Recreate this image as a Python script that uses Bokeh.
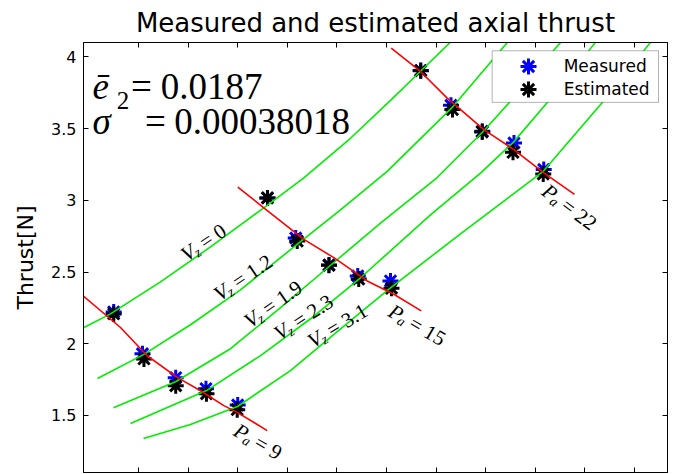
import math
from bokeh.plotting import figure
from bokeh.models import Range1d, LinearAxis, FixedTicker, Legend, LegendItem, BoxAnnotation
from bokeh.core.properties import value
from bokeh.embed import file_html
from bokeh.resources import INLINE

# ---------------- data ----------------
x_ticks = [1, 2, 3, 4, 5, 6, 7, 8, 9, 10, 11]
y_ticks = [1.5, 2, 2.5, 3, 3.5, 4]
y_tick_labels = ["1.5", "2", "2.5", "3", "3.5", "4"]

meas_x = [0.50, 1.08, 1.75, 2.36, 3.00, 3.60, 4.17, 4.84, 5.42, 6.08, 6.69, 7.30, 7.93, 8.57, 9.17]
meas_y = [2.222, 1.930, 1.763, 1.686, 1.572, 3.017, 2.737, 2.549, 2.473, 2.438, 3.906, 3.663, 3.482, 3.400, 3.215]
est_x = [0.50, 1.11, 1.75, 2.37, 2.99, 3.60, 4.20, 4.84, 5.44, 6.10, 6.69, 7.33, 7.93, 8.55, 9.16]
est_y = [2.208, 1.894, 1.707, 1.651, 1.540, 3.017, 2.716, 2.547, 2.451, 2.387, 3.904, 3.633, 3.477, 3.335, 3.184]

vz_labels = ["0", "1.2", "1.9", "2.3", "3.1"]
vz0_x = [-0.109, 0.435, 1.444, 2.452, 3.52, 4.327, 5.274, 6.081, 6.68, 7.387]
vz0_y = [2.111, 2.208, 2.431, 2.675, 2.946, 3.155, 3.433, 3.697, 3.899, 4.136]
vz12_x = [0.173, 1.101, 2.048, 3.056, 4.185, 5.073, 6.02, 7.31, 8.54]
vz12_y = [1.757, 1.924, 2.132, 2.376, 2.689, 2.933, 3.204, 3.643, 4.143]
vz19_x = [0.496, 1.746, 2.855, 3.863, 4.831, 5.879, 7.028, 7.935, 8.48, 9.508]
vz19_y = [1.554, 1.735, 1.965, 2.251, 2.535, 2.841, 3.161, 3.475, 3.684, 4.102]
vz23_x = [0.839, 2.371, 3.46, 4.468, 5.476, 6.887, 7.895, 8.56, 9.246, 10.214]
vz23_y = [1.443, 1.673, 1.917, 2.174, 2.46, 2.898, 3.19, 3.406, 3.684, 4.102]
vz31_x = [1.101, 2.048, 2.996, 4.064, 5.073, 6.081, 7.492, 9.165, 10.355, 11.323]
vz31_y = [1.339, 1.436, 1.562, 1.812, 2.104, 2.39, 2.766, 3.204, 3.684, 4.102]

pa_labels = ["9", "15", "22"]
pa9_x = [-0.21, 0.637, 1.175, 1.78, 2.25, 2.72, 2.99, 3.595]
pa9_y = [2.361, 2.113, 1.916, 1.765, 1.672, 1.568, 1.521, 1.394]
pa15_x = [3.002, 3.526, 4.333, 4.938, 5.611, 6.147, 6.70]
pa15_y = [3.092, 2.948, 2.728, 2.600, 2.438, 2.345, 2.229]
pa22_x = [6.095, 6.685, 7.224, 7.962, 8.567, 9.171, 9.79]
pa22_y = [4.061, 3.899, 3.713, 3.493, 3.354, 3.191, 3.041]

e_mean = "0.0187"
sigma2 = "0.00038018"

# ---------------- figure ----------------
X0, X1 = -0.109, 11.665
Y0, Y1 = 1.1016, 4.101
FW, FH = 584, 431
SX = FW / (X1 - X0)
SY = FH / (Y1 - Y0)

p = figure(width=675, height=474, x_range=Range1d(X0, X1), y_range=Range1d(Y0, Y1),
           output_backend="svg", toolbar_location=None,
           x_axis_location=None, y_axis_location=None,
           title="Measured and estimated axial thrust")
p.min_border_left = 83
p.min_border_right = 8
p.min_border_bottom = 2
p.min_border_top = 41
p.grid.visible = False
p.outline_line_color = "black"
p.outline_line_width = 1
p.background_fill_color = "white"
p.border_fill_color = "white"

p.title.text_font = "DejaVu Sans"
p.title.text_font_size = "26px"
p.title.text_font_style = "normal"
p.title.align = "center"
p.title.text_color = "black"

SANS = "DejaVu Sans"
SERIF = "Liberation Serif"


def make_axis(ticks, show_labels):
    ax = LinearAxis(ticker=FixedTicker(ticks=ticks))
    ax.major_tick_in = 5
    ax.major_tick_out = 0
    ax.minor_tick_line_color = None
    ax.axis_line_color = "black"
    ax.axis_line_width = 1
    ax.major_tick_line_color = "black"
    if show_labels:
        ax.major_label_text_font = SANS
        ax.major_label_text_font_size = "16px"
        ax.major_label_text_color = "black"
        ax.major_label_standoff = 7
    else:
        ax.major_label_text_font_size = "0px"
        ax.major_label_text_color = None
        ax.major_label_standoff = 0
    return ax


left = make_axis(y_ticks, True)
left.major_label_overrides = {t: s for t, s in zip(y_ticks, y_tick_labels)}
left.axis_label = "Thrust[N]"
left.axis_label_text_font = SANS
left.axis_label_text_font_size = "22px"
left.axis_label_text_font_style = "normal"
left.axis_label_text_color = "black"
left.axis_label_standoff = 10
p.add_layout(left, "left")
p.add_layout(make_axis(y_ticks, False), "right")
p.add_layout(make_axis(x_ticks, False), "below")
p.add_layout(make_axis(x_ticks, False), "above")

# markers
r_meas = p.scatter(meas_x, meas_y, marker="asterisk", size=16, line_color="blue", line_width=3)
r_est = p.scatter(est_x, est_y, marker="asterisk", size=16, line_color="black", line_width=3)

# green constant-V curves
GREEN = "#00ee00"
for xs, ys in [(vz0_x, vz0_y), (vz12_x, vz12_y), (vz19_x, vz19_y), (vz23_x, vz23_y), (vz31_x, vz31_y)]:
    p.line(xs, ys, line_color=GREEN, line_width=1.6)

# red constant-P lines
for xs, ys in [(pa9_x, pa9_y), (pa15_x, pa15_y), (pa22_x, pa22_y)]:
    p.line(xs, ys, line_color="red", line_width=1.6)

# ---------------- math-like labels ----------------
EM_IT = {"V": 0.611, "P": 0.611, "z": 0.389, "a": 0.5}
EM_RM = {"=": 0.564, " ": 0.25, ".": 0.25}


def w_rm(s, f):
    return sum(EM_RM.get(c, 0.5) for c in s) * f


def place(cx, cy, ang, u, v):
    t = math.radians(ang)
    dx = u * math.cos(t) + v * math.sin(t)
    dy = -u * math.sin(t) + v * math.cos(t)
    return cx + dx / SX, cy - dy / SY


parts = {"it": ([], [], [], []), "sub": ([], [], [], []), "rm": ([], [], [], [])}


def add(kind, x, y, txt, ang):
    lst = parts[kind]
    lst[0].append(x); lst[1].append(y); lst[2].append(txt); lst[3].append(math.radians(ang))


F, FS, GAP = 21, 14, 4


def math_label(cx, cy, ang, main, sub, rest):
    wm = EM_IT[main] * F
    ws = EM_IT[sub] * FS
    L = wm + ws + GAP + w_rm(rest, F)
    u0 = -L / 2
    x, y = place(cx, cy, ang, u0, 0); add("it", x, y, main, ang)
    x, y = place(cx, cy, ang, u0 + wm - 1, 5); add("sub", x, y, sub, ang)
    x, y = place(cx, cy, ang, u0 + wm + ws + GAP, 0); add("rm", x, y, rest, ang)


vz_pos = [(2.31, 2.706, 34), (3.107, 2.461, 34), (3.712, 2.276, 35), (4.327, 2.184, 33), (5.012, 2.125, 31)]
for lab, (cx, cy, a) in zip(vz_labels, vz_pos):
    math_label(cx, cy, a, "V", "z", "= " + lab)
pa_pos = [(3.409, 1.317, -30), (6.619, 2.131, -30), (9.69, 2.953, -37)]
for lab, (cx, cy, a) in zip(pa_labels, pa_pos):
    math_label(cx, cy, a, "P", "a", "= " + lab)

p.text(parts["it"][0], parts["it"][1], text=parts["it"][2], angle=parts["it"][3],
       text_font=value(SERIF), text_font_style="italic", text_font_size="21px",
       text_align="left", text_baseline="middle", text_color="black")
p.text(parts["sub"][0], parts["sub"][1], text=parts["sub"][2], angle=parts["sub"][3],
       text_font=value(SERIF), text_font_style="italic", text_font_size="14px",
       text_align="left", text_baseline="middle", text_color="black")
p.text(parts["rm"][0], parts["rm"][1], text=parts["rm"][2], angle=parts["rm"][3],
       text_font=value(SERIF), text_font_style="normal", text_font_size="21px",
       text_align="left", text_baseline="middle", text_color="black")

# statistics annotation
BIG = "37px"
p.text([0.073, 0.073], [3.795, 3.551], text=["ē", "σ"], text_font=value(SERIF),
       text_font_style="italic", text_font_size=BIG, text_align="left",
       text_baseline="alphabetic", text_color="black")
p.text([0.56], [3.697], text=["2"], text_font=value(SERIF), text_font_size="25px",
       text_align="left", text_baseline="alphabetic", text_color="black")
p.text([0.85, 1.13], [3.795, 3.551], text=["=", "="], text_font=value(SERIF),
       text_font_size=BIG, text_align="left", text_baseline="alphabetic", text_color="black")
p.text([1.45, 1.72], [3.795, 3.551], text=[e_mean, sigma2], text_font=value(SERIF),
       text_font_size=BIG, text_align="left", text_baseline="alphabetic", text_color="black")

# legend: framed box + one legend per row (so rows can sit close with big markers)
LB_L, LB_R, LB_T, LB_B = 491.7, 658.0, 49.3, 101.0   # legend box, canvas px
FR_L, FR_T, FR_B = 83.0, 41.0, 472.0
box = BoxAnnotation(left=X0 + (LB_L - FR_L) / SX, right=X0 + (LB_R - FR_L) / SX,
                    top=Y1 - (LB_T - FR_T) / SY, bottom=Y1 - (LB_B - FR_T) / SY,
                    fill_color="white", fill_alpha=1.0, line_color="black", line_width=1)
p.add_layout(box)

GH = 40
for lab, rend, row_c in [("Measured", r_meas, 66.0), ("Estimated", r_est, 89.0)]:
    lg = Legend(items=[LegendItem(label=lab, renderers=[rend])],
                location=(LB_L - FR_L, FR_B - (row_c + GH / 2)))
    lg.margin = 0
    lg.padding = 0
    lg.spacing = 0
    lg.glyph_width = 72
    lg.glyph_height = GH
    lg.label_standoff = 0
    lg.label_text_font = SANS
    lg.label_text_font_size = "17px"
    lg.label_text_color = "black"
    lg.border_line_color = None
    lg.background_fill_alpha = 0.0
    p.add_layout(lg)

open("out.html", "w").write(file_html(p, INLINE))
